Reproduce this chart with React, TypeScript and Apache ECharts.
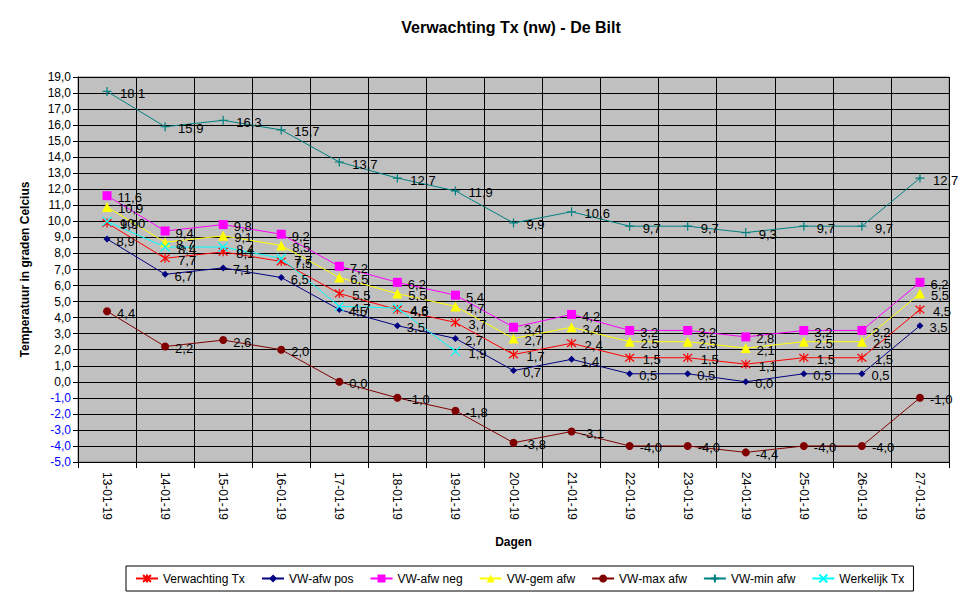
import React, { useEffect, useRef } from "react";
import * as echarts from "echarts";

const categories = [
  "13-01-19", "14-01-19", "15-01-19", "16-01-19", "17-01-19", "18-01-19", "19-01-19", "20-01-19",
  "21-01-19", "22-01-19", "23-01-19", "24-01-19", "25-01-19", "26-01-19", "27-01-19",
];
const verwachtingTx = [9.9, 7.7, 8.1, 7.5, 5.5, 4.5, 3.7, 1.7, 2.4, 1.5, 1.5, 1.1, 1.5, 1.5, 4.5];
const vwAfwPos = [8.9, 6.7, 7.1, 6.5, 4.5, 3.5, 2.7, 0.7, 1.4, 0.5, 0.5, 0.0, 0.5, 0.5, 3.5];
const vwAfwNeg = [11.6, 9.4, 9.8, 9.2, 7.2, 6.2, 5.4, 3.4, 4.2, 3.2, 3.2, 2.8, 3.2, 3.2, 6.2];
const vwGemAfw = [10.9, 8.7, 9.1, 8.5, 6.5, 5.5, 4.7, 2.7, 3.4, 2.5, 2.5, 2.1, 2.5, 2.5, 5.5];
const vwMaxAfw = [4.4, 2.2, 2.6, 2.0, 0.0, -1.0, -1.8, -3.8, -3.1, -4.0, -4.0, -4.4, -4.0, -4.0, -1.0];
const vwMinAfw = [18.1, 15.9, 16.3, 15.7, 13.7, 12.7, 11.9, 9.9, 10.6, 9.7, 9.7, 9.3, 9.7, 9.7, 12.7];
const werkelijkTx: (number | null)[] = [10.0, 8.4, 8.4, 7.7, 4.7, 4.6, 1.9, null, null, null, null, null, null, null, null];

const FONT = 'Arial, "Liberation Sans", sans-serif';
const fmt = (v: number) => v.toFixed(1).replace(".", ",");

const ASTERISK = "path://M5,0L5,10M0.8,0.8L9.2,9.2M9.2,0.8L0.8,9.2";
const PLUS = "path://M5,0L5,10M0,5L10,5";
const XMARK = "path://M0,0L10,10M10,0L0,10";

export default function App() {
  const ref = useRef<HTMLDivElement>(null);
  useEffect(() => {
    document.body.style.margin = "0";
    const chart = echarts.init(ref.current!, null, { renderer: "svg" });
    const mk = (
      name: string,
      data: (number | null)[],
      color: string,
      symbol: string,
      size: number,
      stroke: boolean
    ) => ({
      name,
      type: "line",
      data,
      symbol,
      symbolSize: size,
      showAllSymbol: true,
      connectNulls: false,
      lineStyle: { color, width: 1 },
      itemStyle: stroke
        ? { color: "none", borderColor: color, borderWidth: 1.2 }
        : { color, borderColor: color, borderWidth: 0 },
      label: {
        show: true,
        position: "right",
        distance: 6,
        offset: [0, 2],
        color: "#000",
        fontFamily: FONT,
        fontSize: 13,
        formatter: (p: any) => fmt(p.value),
      },
      emphasis: { disabled: true },
    });
    chart.setOption({
      animation: false,
      backgroundColor: "#fff",
      textStyle: { fontFamily: FONT },
      title: {
        text: "Verwachting Tx (nw) - De Bilt",
        left: 506,
        textAlign: "center",
        top: 14,
        textStyle: { fontFamily: FONT, fontSize: 16, fontWeight: "bold", color: "#000" },
      },
      legend: {
        left: 126,
        top: 566,
        width: 780,
        padding: [6, 9],
        itemGap: 16,
        itemWidth: 22,
        itemHeight: 10,
        borderColor: "#000",
        borderWidth: 1,
        textStyle: { fontFamily: FONT, fontSize: 12, color: "#000" },
        selectedMode: false,
      },
      grid: {
        left: 78,
        top: 77,
        width: 871,
        height: 385,
        show: true,
        backgroundColor: "#C0C0C0",
        borderColor: "#808080",
        borderWidth: 1,
      },
      xAxis: {
        type: "category",
        data: categories,
        boundaryGap: true,
        name: "Dagen",
        nameLocation: "middle",
        nameGap: 74,
        nameTextStyle: { fontFamily: FONT, fontSize: 12, fontWeight: "bold", color: "#000" },
        axisLine: { show: true, onZero: false, lineStyle: { color: "#000", width: 1 } },
        axisTick: { show: true, interval: 0, length: 6, lineStyle: { color: "#000" } },
        axisLabel: {
          interval: 0,
          rotate: -90,
          margin: 10,
          color: "#000",
          fontFamily: FONT,
          fontSize: 12,
        },
        splitLine: { show: true, interval: 0, lineStyle: { color: "#000", width: 1 } },
      },
      yAxis: {
        type: "value",
        min: -5,
        max: 19,
        interval: 1,
        name: "Temperatuur in graden Celcius",
        nameLocation: "middle",
        nameGap: 47,
        nameTextStyle: { fontFamily: FONT, fontSize: 12, fontWeight: "bold", color: "#000" },
        axisLine: { show: true, lineStyle: { color: "#000", width: 1 } },
        axisTick: { show: true, length: 5, lineStyle: { color: "#000" } },
        axisLabel: {
          margin: 7,
          fontFamily: FONT,
          fontSize: 12,
          formatter: (v: number) => fmt(v),
          color: (v: any) => (Number(v) < 0 ? "#0000FF" : "#000000"),
        },
        splitLine: { show: true, lineStyle: { color: "#000", width: 1 } },
      },
      series: [
        mk("Verwachting Tx", verwachtingTx, "#FF0000", ASTERISK, 9, true),
        mk("VW-afw pos", vwAfwPos, "#000080", "diamond", 7, false),
        mk("VW-afw neg", vwAfwNeg, "#FF00FF", "rect", 9, false),
        mk("VW-gem afw", vwGemAfw, "#FFFF00", "triangle", 10, false),
        mk("VW-max afw", vwMaxAfw, "#800000", "circle", 8, false),
        mk("VW-min afw", vwMinAfw, "#008080", PLUS, 9, true),
        mk("Werkelijk Tx", werkelijkTx, "#00FFFF", XMARK, 9, true),
      ],
    });
    return () => chart.dispose();
  }, []);
  return <div ref={ref} style={{ width: 976, height: 599 }} />;
}
